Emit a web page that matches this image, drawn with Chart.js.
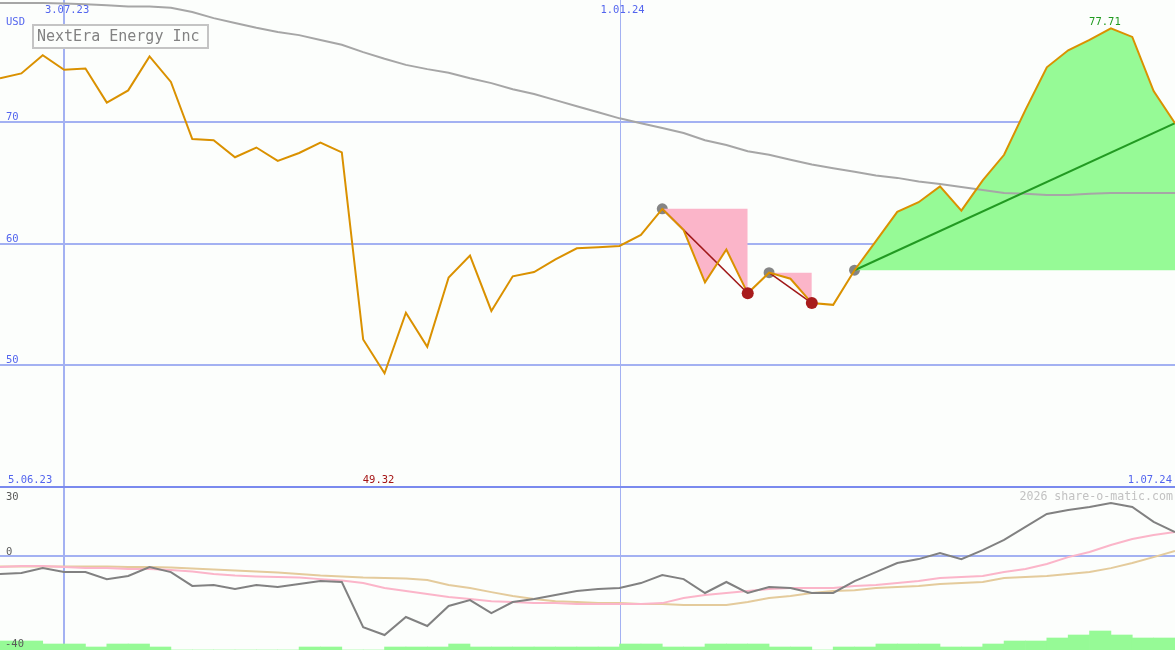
<!DOCTYPE html>
<html>
<head>
<meta charset="utf-8">
<script src="https://cdn.jsdelivr.net/npm/chart.js@4/dist/chart.umd.min.js"></script>
<style>
  body { margin: 0; background: #fcfefc; }
  #wrap { position: relative; width: 1175px; height: 650px; overflow: hidden; background: #fcfefc; }
  canvas { position: absolute; left: 0; }
  #top { top: 0; }
  #bottom { top: 488px; }
  #sep { position: absolute; left: 0; top: 486px; width: 1175px; height: 2px; background: #7a8aee; z-index: 2; }
</style>
</head>
<body>
<div id="wrap">
  <canvas id="top" width="1175" height="487"></canvas>
  <div id="sep"></div>
  <canvas id="bottom" width="1175" height="162"></canvas>
</div>
<script>
// weekly closes, NextEra Energy (USD), week 0 = mid June 2023
const price = [73.6, 74.0, 75.5, 74.3, 74.4, 71.6, 72.6, 75.4, 73.3, 68.6,
  68.5, 67.1, 67.9, 66.8, 67.45, 68.3, 67.5, 52.1, 49.32, 54.3,
  51.5, 57.2, 59.0, 54.45, 57.3, 57.65, 58.7, 59.6, 59.7, 59.8,
  60.7, 62.85, 61.1, 56.8, 59.5, 55.9, 57.6, 57.1, 55.1, 54.95,
  57.8, 60.2, 62.6, 63.4, 64.7, 62.7, 65.2, 67.3, 71.0, 74.5,
  75.9, 76.75, 77.71, 77.0, 72.55, 69.9];
// long moving average
const avgLong = [79.8, 79.8, 79.8, 79.75, 79.7, 79.6, 79.5, 79.5, 79.4, 79.05,
  78.55, 78.15, 77.75, 77.4, 77.15, 76.75, 76.35, 75.75, 75.2, 74.7,
  74.35, 74.05, 73.6, 73.2, 72.7, 72.3, 71.8, 71.3, 70.8, 70.3,
  69.9, 69.5, 69.1, 68.5, 68.1, 67.6, 67.3, 66.9, 66.5, 66.2,
  65.9, 65.6, 65.4, 65.1, 64.9, 64.65, 64.4, 64.15, 64.1, 64.0,
  64.0, 64.1, 64.15, 64.15, 64.15, 64.15];
// lower panel oscillator
const osc = [-8.2, -7.7, -5.5, -7.3, -7.3, -10.5, -9.1, -5.0, -7.3, -13.6,
  -13.2, -15.0, -13.2, -14.1, -12.7, -11.4, -11.8, -32.3, -35.9, -27.7,
  -31.8, -22.7, -20.0, -25.9, -20.9, -19.5, -17.7, -15.9, -15.0, -14.5,
  -12.3, -8.6, -10.5, -16.8, -11.8, -16.8, -14.1, -14.5, -16.8, -16.8,
  -11.4, -7.3, -3.2, -1.4, 1.4, -1.4, 2.7, 7.3, 13.2, 19.1,
  20.9, 22.3, 24.1, 22.3, 15.5, 10.9];
const oscFast = [-5.0, -4.5, -4.5, -5.0, -5.5, -5.5, -5.9, -5.9, -6.4, -7.0,
  -8.2, -8.9, -9.3, -9.5, -9.8, -10.5, -11.1, -12.3, -14.5, -15.9,
  -17.3, -18.6, -19.5, -20.5, -20.9, -21.4, -21.4, -21.8, -21.8, -21.8,
  -21.8, -21.4, -19.1, -17.7, -16.8, -15.9, -15.0, -14.5, -14.5, -14.5,
  -13.6, -13.2, -12.3, -11.4, -10.0, -9.5, -9.1, -7.3, -5.9, -3.6,
  -0.5, 1.8, 5.0, 7.7, 9.5, 10.9];
const oscSlow = [-4.8, -4.8, -4.8, -4.8, -4.8, -4.8, -5.0, -5.0, -5.2, -5.7,
  -6.1, -6.6, -7.0, -7.5, -8.2, -8.9, -9.3, -9.8, -10.0, -10.2,
  -10.9, -13.2, -14.5, -16.4, -18.2, -19.5, -20.5, -20.9, -21.4, -21.4,
  -21.8, -21.8, -22.3, -22.3, -22.3, -20.9, -19.1, -18.2, -16.8, -15.9,
  -15.5, -14.5, -14.1, -13.6, -12.7, -12.3, -11.8, -10.0, -9.5, -9.1,
  -8.2, -7.3, -5.5, -3.2, -0.5, 2.3];
const volume = [9, 9, 6, 6, 3, 6, 6, 3, 0, 0, 0, 0, 0, 0, 3, 3, 0, 0, 3, 3,
  3, 6, 3, 3, 3, 3, 3, 3, 3, 6, 6, 3, 3, 6, 6, 6, 3, 3, 0, 3,
  3, 6, 6, 6, 3, 3, 6, 9, 9, 12, 15, 19, 15, 12, 12];

const priceTicks = [70, 60, 50];
const oscTicks = [30, 0, -40];
const dateTicks = ["3.07.23", "1.01.24"];
const dateTickWeeks = [3, 29];
const startLabel = "5.06.23";
const endLabel = "1.07.24";
const downSwings = [[31, 35], [36, 38]];
const upSwing = [40, 55];
const lowWeek = 18, highWeek = 52;

const BG = "#fcfefc";
const GRID = "#a3b1f2";
const MONO = "'DejaVu Sans Mono', monospace";
const lastWeek = price.length - 1;

const pts = (arr, from) => arr.map((v, i) => ({ x: i + from, y: v }));

function bgPlugin() {
  return {
    id: "bg",
    beforeDraw(chart) {
      const c = chart.ctx;
      c.save();
      c.fillStyle = BG;
      c.fillRect(0, 0, chart.width, chart.height);
      c.restore();
    }
  };
}

function gridPlugin(yTicks) {
  return {
    id: "grid",
    beforeDatasetsDraw(chart) {
      const c = chart.ctx, x = chart.scales.x, y = chart.scales.y;
      c.save();
      c.strokeStyle = GRID;
      c.lineWidth = 2;
      yTicks.forEach(v => {
        const py = Math.round(y.getPixelForValue(v));
        if (py < 2 || py > chart.height - 2) return;
        c.beginPath(); c.moveTo(0, py); c.lineTo(chart.width, py); c.stroke();
      });
      dateTickWeeks.forEach((w, k) => {
        c.lineWidth = k === 0 ? 2 : 1;
        const px = Math.round(x.getPixelForValue(w)) + (k === 0 ? 0 : 0.5);
        c.beginPath(); c.moveTo(px, 0); c.lineTo(px, chart.height); c.stroke();
      });
      c.restore();
    }
  };
}

// ---- top panel ----
const topSets = [];
topSets.push({ // red swing lows
  data: downSwings.map(s => ({ x: s[1], y: price[s[1]] })),
  showLine: false, pointRadius: 6, pointBackgroundColor: "#a81c1c",
  pointBorderWidth: 0, order: 0
});
topSets.push({
  data: pts(price, 0), borderColor: "#da9100", borderWidth: 2,
  pointRadius: 0, tension: 0, order: 1
});
downSwings.forEach(s => topSets.push({
  data: [{ x: s[0], y: price[s[0]] }, { x: s[1], y: price[s[1]] }],
  borderColor: "#a01818", borderWidth: 1.5, pointRadius: 0, order: 2
}));
topSets.push({
  data: [{ x: upSwing[0], y: price[upSwing[0]] }, { x: upSwing[1], y: price[upSwing[1]] }],
  borderColor: "#229a22", borderWidth: 2, pointRadius: 0, order: 2
});
topSets.push({
  data: pts(avgLong, 0), borderColor: "#a6a6a6", borderWidth: 2,
  pointRadius: 0, order: 3
});
downSwings.forEach(s => topSets.push({
  data: pts(price.slice(s[0], s[1] + 1), s[0]),
  borderWidth: 0, pointRadius: 0, backgroundColor: "#fbb5c9",
  fill: { value: price[s[0]] }, order: 4
}));
topSets.push({
  data: pts(price.slice(upSwing[0], upSwing[1] + 1), upSwing[0]),
  borderWidth: 0, pointRadius: 0, backgroundColor: "#96fa96",
  fill: { value: price[upSwing[0]] }, order: 4
});
topSets.push({ // grey swing highs
  data: [...downSwings.map(s => s[0]), upSwing[0]].map(i => ({ x: i, y: price[i] })),
  showLine: false, pointRadius: 5.5, pointBackgroundColor: "#858585",
  pointBorderWidth: 0, order: 5
});

const topLabels = {
  id: "topLabels",
  afterDraw(chart) {
    const c = chart.ctx, x = chart.scales.x, y = chart.scales.y;
    c.save();
    c.font = "10.5px " + MONO;
    c.textBaseline = "alphabetic";
    c.fillStyle = "#5365ee";
    c.textAlign = "left";
    c.fillText("USD", 6, 25);
    priceTicks.forEach(v => c.fillText(String(v), 6, y.getPixelForValue(v) - 2));
    c.textAlign = "center";
    dateTicks.forEach((t, k) => c.fillText(t, x.getPixelForValue(dateTickWeeks[k]) + 3, 13));
    c.textAlign = "left";
    c.fillText(startLabel, 8, 483);
    c.textAlign = "right";
    c.fillText(endLabel, 1172, 483);
    c.textAlign = "center";
    c.fillStyle = "#a51515";
    c.fillText(price[lowWeek].toFixed(2), x.getPixelForValue(lowWeek) - 6, 483);
    c.fillStyle = "#1f9a1f";
    c.fillText(price[highWeek].toFixed(2), x.getPixelForValue(highWeek) - 6, 25);
    // title box
    c.fillStyle = BG;
    c.fillRect(33, 25, 175, 23);
    c.strokeStyle = "#c4c4c4";
    c.lineWidth = 2;
    c.strokeRect(33, 25, 175, 23);
    c.font = "15px " + MONO;
    c.textAlign = "left";
    c.fillStyle = "#828282";
    c.fillText("NextEra Energy Inc", 37, 41);
    c.restore();
  }
};

new Chart(document.getElementById("top"), {
  type: "line",
  data: { datasets: topSets },
  options: {
    responsive: false, animation: false, devicePixelRatio: 1,
    layout: { padding: 0, autoPadding: false },
    plugins: { legend: { display: false }, tooltip: { enabled: false } },
    scales: {
      x: { type: "linear", display: false, min: 0, max: lastWeek, offset: false },
      y: { display: false, min: 39.96, max: 80.04 }
    }
  },
  plugins: [bgPlugin(), gridPlugin(priceTicks), topLabels]
});

// ---- bottom panel ----
const bottomLabels = {
  id: "bottomLabels",
  afterDraw(chart) {
    const c = chart.ctx;
    c.save();
    c.font = "10.5px " + MONO;
    c.fillStyle = "#5a5a5a";
    c.textAlign = "left";
    c.fillText(String(oscTicks[0]), 6, 12);
    c.fillText(String(oscTicks[1]), 6, 67);
    c.fillText(String(oscTicks[2]), 5, 159);
    c.font = "11.6px " + MONO;
    c.fillStyle = "#c2c2c2";
    c.textAlign = "right";
    c.fillText("2026 share-o-matic.com", 1173, 12);
    c.restore();
  }
};

new Chart(document.getElementById("bottom"), {
  type: "line",
  data: {
    datasets: [
      { data: pts(osc, 0), borderColor: "#818181", borderWidth: 2, pointRadius: 0, order: 0 },
      { data: pts(oscFast, 0), borderColor: "#fbb5c9", borderWidth: 2, pointRadius: 0, order: 1 },
      { data: pts(oscSlow, 0), borderColor: "#e4cb9c", borderWidth: 2, pointRadius: 0, order: 2 },
      {
        type: "bar", data: volume.map((v, i) => ({ x: i + 0.5, y: v })), yAxisID: "yv",
        backgroundColor: "#96fa96", barPercentage: 1, categoryPercentage: 1,
        borderWidth: 0, order: 3
      }
    ]
  },
  options: {
    responsive: false, animation: false, devicePixelRatio: 1,
    layout: { padding: 0, autoPadding: false },
    plugins: { legend: { display: false }, tooltip: { enabled: false } },
    scales: {
      x: { type: "linear", display: false, min: 0, max: lastWeek, offset: false },
      y: { display: false, min: -42.7, max: 30.9 },
      yv: { display: false, min: 0, max: 162 }
    }
  },
  plugins: [bgPlugin(), gridPlugin([0]), bottomLabels]
});
</script>
</body>
</html>
